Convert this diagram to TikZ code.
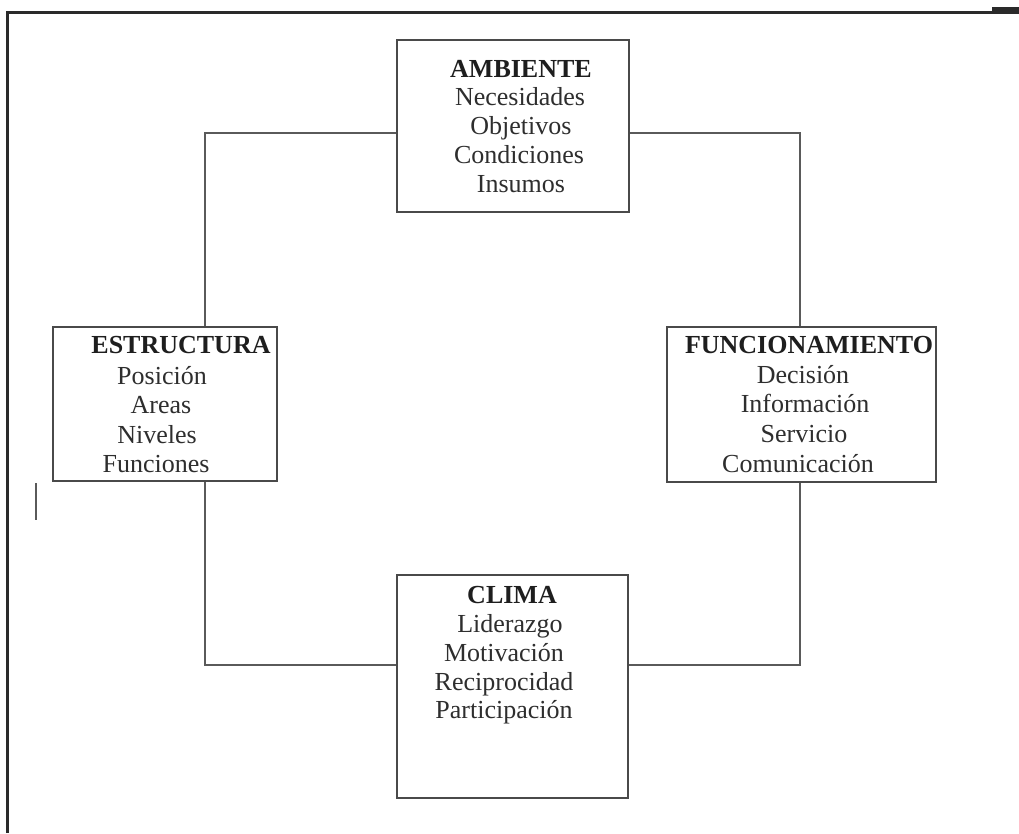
\documentclass[tikz,border=0pt]{standalone}
\usepackage{fontspec}
\setmainfont{Liberation Serif}
\definecolor{boxc}{HTML}{4A4A4A}
\definecolor{connc}{HTML}{5A5A5A}
\definecolor{titlec}{HTML}{1E1E1E}
\definecolor{textc}{HTML}{2E2E2E}
\definecolor{framec}{HTML}{2A2A2A}
\begin{document}
\begin{tikzpicture}[x=1pt,y=-1pt,
  box/.style={draw=boxc, line width=1.4pt, rectangle, inner sep=0pt},
  conn/.style={draw=connc, line width=1.1pt},
  ttl/.style={font=\fontsize{26}{29}\selectfont\bfseries, text=titlec, inner sep=0pt, anchor=base},
  itm/.style={font=\fontsize{26}{29}\selectfont, text=textc, inner sep=0pt, anchor=base},
  frame/.style={draw=framec, line width=3pt}]
\useasboundingbox[fill=white] (0,0) rectangle (1019,833);

% frame
\coordinate (f1) at (7,833);
\coordinate (f2) at (7,12);
\coordinate (f3) at (1019,12);
\coordinate (f4) at (992,8.5);
\coordinate (f5) at (1019,8.5);
\draw[frame] (f1) -- (f2) -- (f3);
\draw[draw=framec, line width=4pt] (f4) -- (f5);
\coordinate (m1) at (36,483);
\coordinate (m2) at (36,520);
\draw[draw=connc, line width=1.4pt] (m1) -- (m2);

% boxes
\node[box, minimum width=232pt, minimum height=172pt] (amb) at (513,126) {};
\node[box, minimum width=224pt, minimum height=154pt] (est) at (165,404) {};
\node[box, minimum width=269pt, minimum height=155pt] (fun) at (801.5,404.5) {};
\node[box, minimum width=231pt, minimum height=223pt] (cli) at (512.5,686.5) {};

% connectors
\coordinate (tl) at (205,133);
\coordinate (tr) at (800,133);
\coordinate (bl) at (205,665);
\coordinate (br) at (800,665);
\draw[conn] (amb.west |- tl) -| (est.north -| tl);
\draw[conn] (amb.east |- tr) -| (fun.north -| tr);
\draw[conn] (est.south -| bl) |- (cli.west |- bl);
\draw[conn] (fun.south -| br) |- (cli.east |- br);

% AMBIENTE
\node[ttl] (amb0) at (521,77) {AMBIENTE};
\node[itm] (amb1) at (520,105) {Necesidades};
\node[itm] (amb2) at (521,134) {Objetivos};
\node[itm] (amb3) at (519,163) {Condiciones};
\node[itm] (amb4) at (521,192) {Insumos};

% ESTRUCTURA
\node[ttl] (est0) at (181,353) {ESTRUCTURA};
\node[itm] (est1) at (162,384) {Posición};
\node[itm] (est2) at (161,413) {Areas};
\node[itm] (est3) at (157,443) {Niveles};
\node[itm] (est4) at (156,472) {Funciones};

% FUNCIONAMIENTO
\node[ttl] (fun0) at (809,353) {FUNCIONAMIENTO};
\node[itm] (fun1) at (803,383) {Decisión};
\node[itm] (fun2) at (805,412) {Información};
\node[itm] (fun3) at (804,442) {Servicio};
\node[itm] (fun4) at (798,472) {Comunicación};

% CLIMA
\node[ttl] (cli0) at (512,603) {CLIMA};
\node[itm] (cli1) at (510,632) {Liderazgo};
\node[itm] (cli2) at (504,661) {Motivación};
\node[itm] (cli3) at (504,690) {Reciprocidad};
\node[itm] (cli4) at (504,718) {Participación};
\end{tikzpicture}
\end{document}
